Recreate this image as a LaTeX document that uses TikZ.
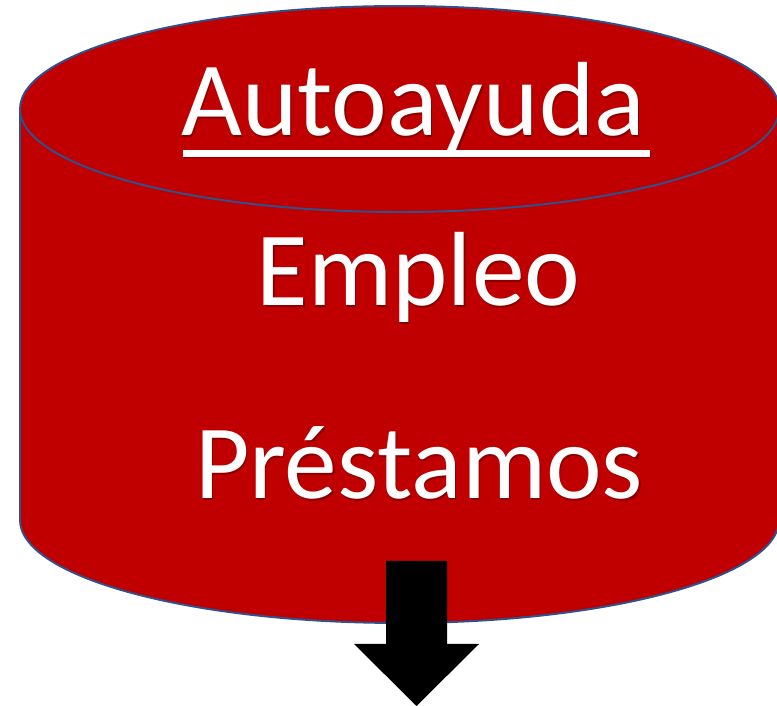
\documentclass[tikz,border=0pt]{standalone}
\usepackage{fontspec}
\setmainfont{Carlito}
\usetikzlibrary{positioning}
\definecolor{cylred}{HTML}{C00000}
\definecolor{cylblue}{HTML}{2F528F}
\definecolor{shadowred}{HTML}{8A0000}
\tikzset{cyl-line/.style={draw=cylblue, line width=1.1pt, fill=cylred}}
\tikzset{cyl-text/.style={text=white, inner sep=0, anchor=base, font=\fontsize{60}{60}\selectfont}}
\tikzset{cyl-shadow/.style={cyl-text, text=shadowred}}

\begin{document}
\begin{tikzpicture}[x=0.02cm, y=0.02cm]
  \useasboundingbox (0,0) rectangle (777,706);

  \begin{scope}
    \clip (0,0) rectangle (777,706);
    % body and lid
    \draw[cyl-line] (20,597) -- (20,186)
      arc[start angle=180, end angle=360, x radius=379.5, y radius=103]
      -- (779,597) -- cycle;
    \draw[cyl-line] (399.5,597) ellipse [x radius=379.5, y radius=103];
  \end{scope}

  % shadows
  \node[cyl-shadow] at (414.2,568.8) {Autoayuda};
  \node[cyl-shadow] at (419.7,398.8) {Empleo};
  \node[cyl-shadow] at (420.2,205.8) {Préstamos};
  \fill[shadowred] (184.2,548.05) rectangle (651.2,554.55);

  \node[cyl-text] (autoayuda) at (413,570) {Autoayuda};
  \node[cyl-text] (empleo) at (418.5,400) {Empleo};
  \node[cyl-text] (prestamos) at (419,207) {Préstamos};
  \fill[white] (183,549.25) rectangle (650,555.75);

  % arrow
  \fill[black] (386,145) -- (447,145) -- (447,62) -- (479,62)
    -- (416.5,0) -- (354,62) -- (386,62) -- cycle;
\end{tikzpicture}
\end{document}
